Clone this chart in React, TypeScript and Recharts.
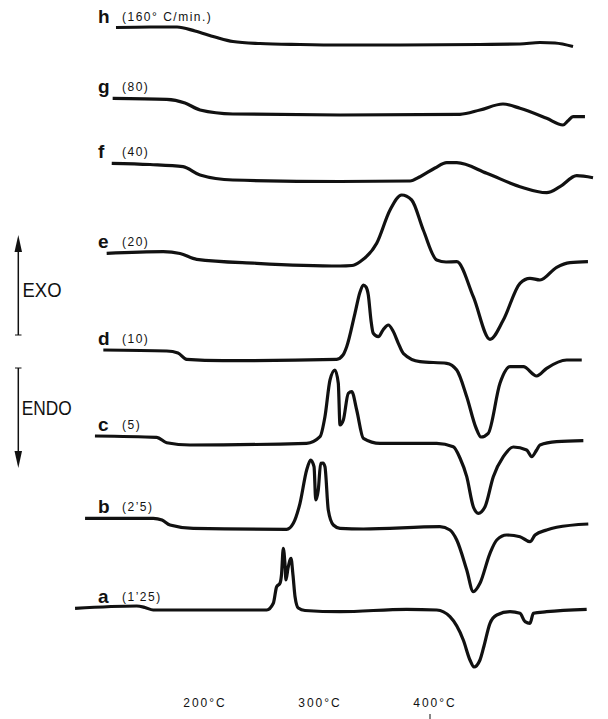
import { LineChart, Line, XAxis, YAxis } from "recharts"

// heating rates (°C/min) for each trace, bottom to top
const LETTERS = ["a", "b", "c", "d", "e", "f", "g", "h"]
const RATES = ["1’25", "2’5", "5", "10", "20", "40", "80", "160° C/min."]

// [temperature °C, heat flow signal (exo up, arbitrary units)]
const curveA: [number, number][] = [
  [87, 1.7], [140.6, 4], [147.8, 2.5], [155, 0], [253.7, 0], [259.4, 6.7], [262.3, 23.3],
  [265.2, 26.7], [266.5, 35], [268.1, 61.7], [269.6, 45], [270.4, 30], [272.2, 42],
  [274.8, 51.7], [276.5, 35], [278.3, 13.3], [281.1, 2], [287, -0.5], [317.4, -1.7],
  [375.4, 0.7], [401.5, 0], [413, -6.7], [424.6, -30], [430.4, -50], [433.9, -57],
  [439.1, -50], [442.6, -36], [447.8, -13.3], [453.7, -5], [465.2, -1.7], [473.9, -3.3],
  [478.3, -11.7], [482.6, -13.3], [485.5, -3.3], [497.1, -1.7], [531.9, 0.7],
]

const curveB: [number, number][] = [
  [95.7, 9.7], [155, 9.7], [162.6, 8], [169.6, 3], [189.8, -0.3], [271, -1.3], [276.8, 4.7],
  [282.6, 24.7], [288.4, 58], [291.9, 68], [294.8, 61.3], [296.3, 28], [298.5, 38],
  [300.6, 64.7], [302.6, 65], [304.3, 61.3], [307.2, 18], [311.6, 3], [317.4, -0.3],
  [337.7, -1], [404.3, 1.3], [413, -2], [418.9, -12], [427.6, -42], [433.3, -63.7],
  [439.1, -55.3], [447.8, -25.3], [453.7, -12], [462.3, -7], [473.9, -8.7], [482.6, -13.7],
  [487, -7], [497.1, -2], [505.8, 0.7], [533.3, 4],
]

const curveC: [number, number][] = [
  [104.3, 7], [158, 5.7], [166.7, 0.3], [187, -2], [288.4, -0.3], [300, 6.3], [304.3, 26.3],
  [308.7, 63], [313, 73], [315.9, 59.7], [317.4, 18], [320.3, 23], [324.6, 49.7],
  [327.6, 51.3], [331.9, 33], [337.7, 4.7], [352.2, -0.3], [401.5, -0.3], [415.9, -3.7],
  [421.7, -15], [427.6, -33.7], [433.3, -63.7], [437.7, -70.3], [443.5, -63.7],
  [450.7, -33.7], [459.4, -13.7], [468.1, -4], [479.7, -7], [484.1, -13.7], [488.4, -7],
  [491.3, -2], [505.8, 1.3], [529, 2.3],
]

const curveD: [number, number][] = [
  [111.6, 10], [166.7, 9], [176.5, 7], [184.1, 0.7], [215.7, -0.7], [314.5, 0.7], [320, 5],
  [323.2, 13.3], [330.4, 46.7], [334.8, 68], [337.7, 75], [340, 73], [342, 65], [344.3, 40],
  [346.3, 26.7], [350.7, 23.3], [354.8, 30], [359.4, 35], [363.5, 29], [368.1, 16.7],
  [372.4, 6.7], [387, -1.7], [410.2, -3.3], [418.9, -10], [427.6, -36.7], [435.7, -68],
  [440, -77], [446.3, -73.3], [456.5, -23.3], [465.2, -6.7], [476.8, -6.7], [488.4, -16],
  [497.1, -8.3], [514.5, 0], [527.6, 0],
]

const curveE: [number, number][] = [
  [114.5, 10.7], [163.7, 12.3], [178.3, 10.5], [192.8, 4.7], [245, 0.7], [317.4, -2],
  [327.8, -1.5], [334.8, 2.3], [349.3, 20.7], [360.9, 54], [371, 69], [379.7, 64],
  [389.8, 34], [401.5, 4], [409.6, 2], [418.9, 2.3], [433.3, -32.7], [447.8, -75.3],
  [459.4, -56], [473.9, -19.3], [482.6, -14.3], [491.3, -16], [505.8, -3.3], [517.4, 1.3],
  [533, 2.3],
]

const curveF: [number, number][] = [
  [118.9, 17.7], [152.2, 16.5], [180.9, 14.3], [195.7, 6], [224.3, 1], [317.4, -0.5],
  [378.3, 0], [387, 4.3], [400, 13], [410.2, 18.3], [418.9, 18.3], [445, 7.7],
  [473.9, -5.7], [497.1, -11.7], [508.7, -5.7], [523.2, 5.3], [537.4, 3.3],
]

const curveG: [number, number][] = [
  [119.7, 16.7], [166.7, 15.7], [182.6, 12], [195.7, 5], [224.3, 1], [317.4, 0],
  [421.7, 0.7], [439.1, 5], [459.1, 11], [473.9, 6.7], [497.1, -3.3], [511.3, -10],
  [515.7, -5.7], [520, -1.7], [530.4, -1.7],
]

const curveH: [number, number][] = [
  [122.6, 17.5], [152.2, 18], [175.7, 18], [191.3, 14], [208.7, 8], [224.3, 3.5],
  [247.8, 1.5], [282.6, 0.5], [317.4, 0], [369.6, 0], [439.1, 0.5], [473.9, 1],
  [491.3, 2.5], [504.3, 2], [520, -1.5],
]

const CURVES = [curveA, curveB, curveC, curveD, curveE, curveF, curveG, curveH]

const TEMP_TICKS = [200, 300, 400]

// layout: vertical stacking of the traces
const W = 608
const H = 719
const AXIS_H = 30
const PLOT_H = H - AXIS_H
const OFFSETS = [79, 161, 246, 329, 425, 508, 574, 644]
const INK = "#111"

export default function App() {
  const series = CURVES.map((c, i) => c.map(([t, s]) => ({ t, v: OFFSETS[i] + s })))

  return (
    <div style={{ position: "absolute", left: 0, top: 0, width: W, height: H, background: "#fff" }}>
      <LineChart width={W} height={H} margin={{ top: 0, right: 0, bottom: 0, left: 0 }}>
        <XAxis
          type="number"
          dataKey="t"
          domain={[21.74, 550.43]}
          allowDataOverflow
          ticks={TEMP_TICKS}
          axisLine={false}
          tickLine={false}
          height={AXIS_H}
          tick={(p: any) => (
            <g>
              <text
                x={p.x}
                y={p.y + 10}
                textAnchor="middle"
                fill={INK}
                fontFamily="Liberation Sans, Arial, sans-serif"
                fontSize={12}
                letterSpacing={2}
              >
                {`${p.payload.value}°C`}
              </text>
              {/* small hand-drawn mark under the 400°C label */}
              {p.payload.value === 400 && (
                <line x1={p.x - 5} y1={p.y + 17} x2={p.x - 5} y2={p.y + 26} stroke={INK} strokeWidth={1} />
              )}
            </g>
          )}
        />
        <YAxis type="number" hide domain={[0, PLOT_H]} allowDataOverflow />
        {series.map((d, i) => (
          <Line
            key={LETTERS[i]}
            data={d}
            dataKey="v"
            type="monotone"
            stroke={INK}
            strokeWidth={3.2}
            dot={false}
            activeDot={false}
            isAnimationActive={false}
          />
        ))}
      </LineChart>

      <svg width={W} height={H} style={{ position: "absolute", left: 0, top: 0, pointerEvents: "none" }}>
        {CURVES.map((c, i) => {
          const y0 = PLOT_H - (OFFSETS[i] + c[0][1]) - 5
          return (
            <g key={LETTERS[i]} fill={INK} fontFamily="Liberation Sans, Arial, sans-serif">
              <text x={98} y={y0} fontSize={19} fontWeight="bold">
                {LETTERS[i]}
              </text>
              <text x={122} y={y0 - 2} fontSize={12} letterSpacing={1.5}>
                {`(${RATES[i]})`}
              </text>
            </g>
          )
        })}

        {/* EXO arrow */}
        <line x1={18.3} y1={248} x2={18.3} y2={335} stroke={INK} strokeWidth={1.5} />
        <line x1={15} y1={335} x2={21.5} y2={335} stroke={INK} strokeWidth={1} />
        <polygon points="18.3,235 14.5,252 22,252" fill={INK} />
        <text x={22.5} y={297} fontSize={20} textLength={39} lengthAdjust="spacingAndGlyphs"
          fill={INK} fontFamily="Liberation Sans, Arial, sans-serif">EXO</text>

        {/* ENDO arrow */}
        <line x1={15} y1={368} x2={21.5} y2={368} stroke={INK} strokeWidth={1} />
        <line x1={18.3} y1={368} x2={18.3} y2={455} stroke={INK} strokeWidth={1.5} />
        <polygon points="18.3,468 14.5,451 22,451" fill={INK} />
        <text x={21.7} y={415} fontSize={21} textLength={50} lengthAdjust="spacingAndGlyphs"
          fill={INK} fontFamily="Liberation Sans, Arial, sans-serif">ENDO</text>
      </svg>
    </div>
  )
}
